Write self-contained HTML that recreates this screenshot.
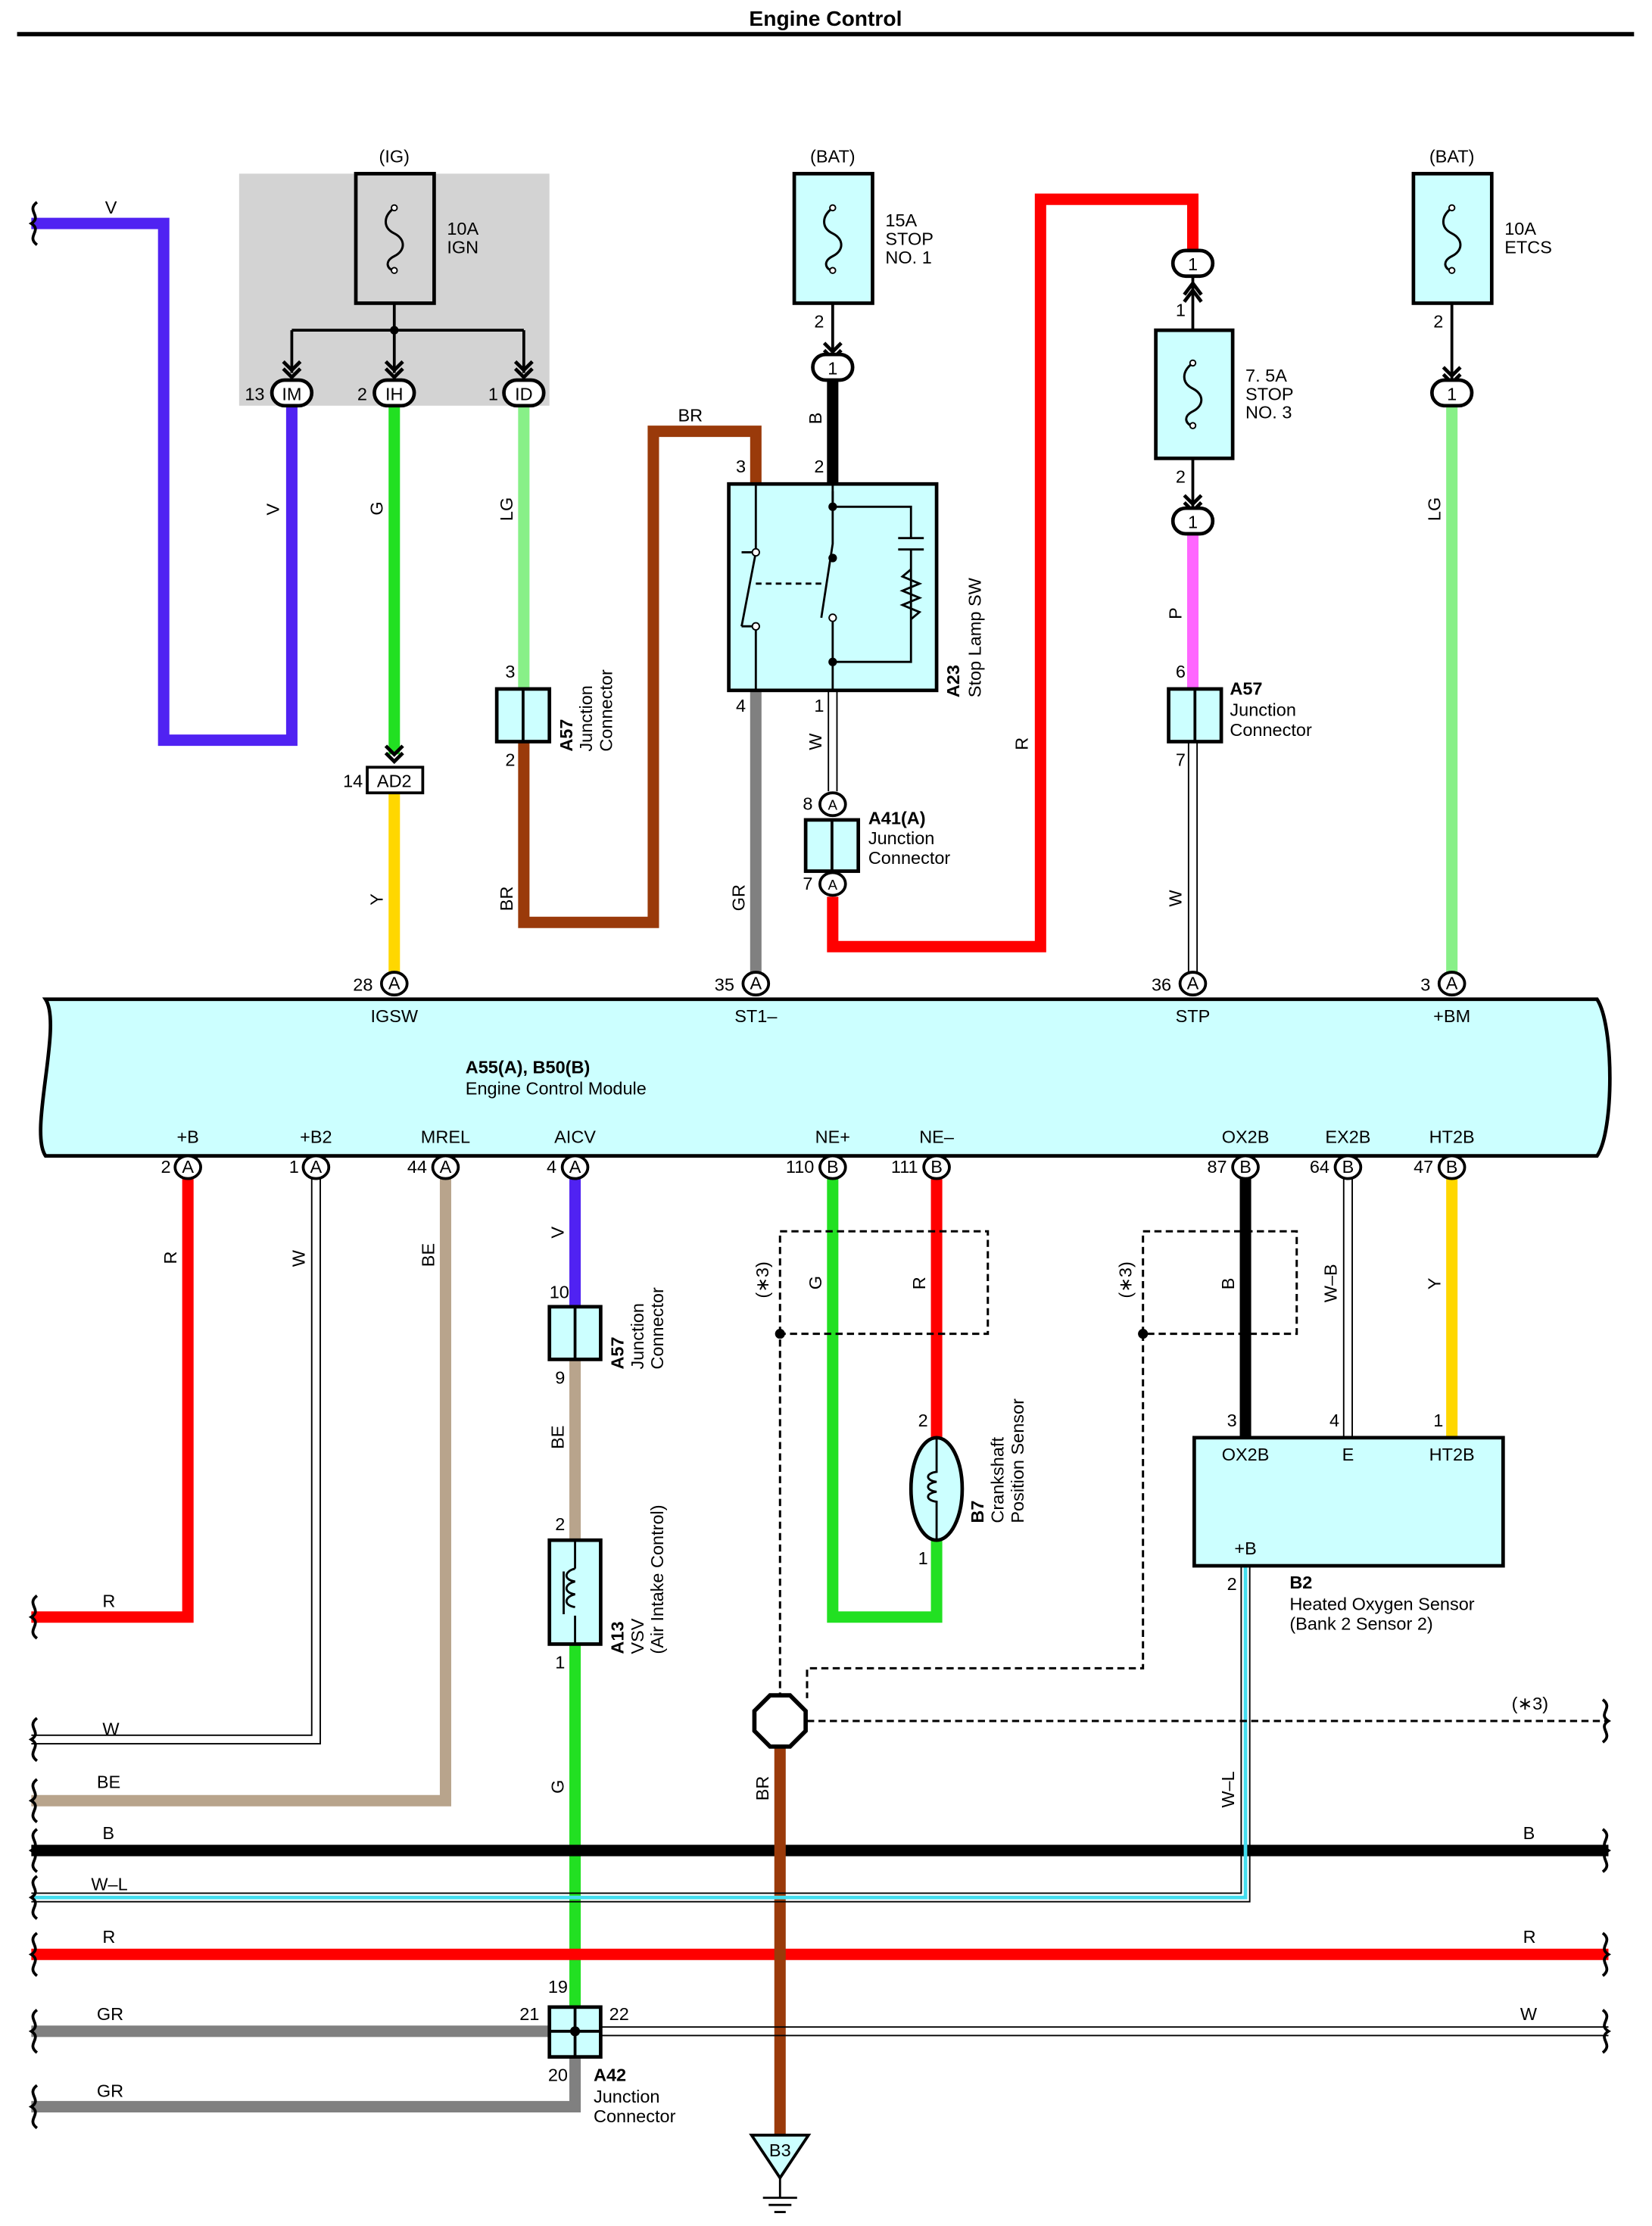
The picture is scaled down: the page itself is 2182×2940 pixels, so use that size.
<!DOCTYPE html>
<html><head><meta charset="utf-8"><style>
html,body{margin:0;padding:0;background:#fff}
svg{display:block}
text{font-family:"Liberation Sans",Arial,sans-serif;font-size:12.5px;fill:#000}
.b{font-weight:bold}
</style></head><body>
<svg width="2182" height="2940" viewBox="0 0 1160.6 1563.8" preserveAspectRatio="none" xmlns="http://www.w3.org/2000/svg">
<defs>
<g id="fuse"><path d="M0,-22 C-8,-16 -8,-8 0,-4 C8,0 8,8 0,12 C-8,16 -4,22 0,22" fill="none" stroke="#000" stroke-width="1.6"/><circle cx="0" cy="-22" r="2" fill="#fff" stroke="#000"/><circle cx="0" cy="22" r="2" fill="#fff" stroke="#000"/></g>
<g id="chev"><path d="M-6,-8 L0,-2 L6,-8 M-6,-3 L0,3 L6,-3" fill="none" stroke="#000" stroke-width="2.5"/></g>
</defs>
<text x="580" y="18" text-anchor="middle" class="b" style="font-size:15px">Engine Control</text>
<line x1="12" y1="24" x2="1148" y2="24" stroke="#000" stroke-width="3"/>

<!-- gray box -->
<rect x="168" y="122" width="218" height="163" fill="#d3d3d3"/>
<text x="277" y="114" text-anchor="middle">(IG)</text>
<text x="585" y="114" text-anchor="middle">(BAT)</text>
<text x="1020" y="114" text-anchor="middle">(BAT)</text>
<rect x="250" y="122" width="55" height="91" fill="#d3d3d3" stroke="#000" stroke-width="2.5"/>
<use href="#fuse" x="277" y="168"/>
<text x="314" y="165">10A</text><text x="314" y="178">IGN</text>
<path d="M277,213 V232 M205,232 H368 M205,232 V262 M277,232 V262 M368,232 V262" stroke="#000" stroke-width="2" fill="none"/>
<circle cx="277" cy="232" r="3" fill="#000"/>
<use href="#chev" x="205" y="262"/><use href="#chev" x="277" y="262"/><use href="#chev" x="368" y="262"/>

<!-- wires top -->
<g fill="none" stroke-width="8" stroke-linejoin="miter">
<path d="M22,157 H115 V520 H205 V285" stroke="#5022f2"/>
<path d="M277,285 V530" stroke="#22e022"/>
<path d="M277,557 V683" stroke="#ffd700"/>
<path d="M368,285 V484" stroke="#88f088"/>
<path d="M368,521 V648 H459 V303 H531 V340" stroke="#9a3a0a"/>
<path d="M585,266 V340" stroke="#000"/>
<path d="M531,485 V683" stroke="#808080"/>
<path d="M585,630 V665 H731 V140 H838 V176" stroke="#ff0000"/>
<path d="M838,376 V484" stroke="#ff66ff"/>
<path d="M1020,285 V683" stroke="#88f088"/>
</g>
<g fill="none" stroke="#000" stroke-width="1">
<path d="M582,485 V556 M588,485 V556"/>
<path d="M835,521 V683 M841,521 V683"/>
</g>
<use href="#chev" x="277" y="532"/>
<rect x="258" y="539" width="39" height="18" fill="#fff" stroke="#000" stroke-width="2"/>
<text x="277" y="553" text-anchor="middle">AD2</text><text x="241" y="553">14</text>

<!-- IM IH ID -->
<g fill="#fff" stroke="#000" stroke-width="2.5">
<rect x="191" y="267" width="28" height="18" rx="9"/><rect x="263" y="267" width="28" height="18" rx="9"/><rect x="354" y="267" width="28" height="18" rx="9"/>
</g>
<text x="205" y="281" text-anchor="middle">IM</text><text x="277" y="281" text-anchor="middle">IH</text><text x="368" y="281" text-anchor="middle">ID</text>
<text x="172" y="281">13</text><text x="251" y="281">2</text><text x="343" y="281">1</text>

<!-- fuses -->
<rect x="558" y="122" width="55" height="91" fill="#ccffff" stroke="#000" stroke-width="2.5"/><use href="#fuse" x="585" y="168"/>
<text x="622" y="159">15A</text><text x="622" y="172">STOP</text><text x="622" y="185">NO. 1</text>
<text x="572" y="230">2</text>
<path d="M585,213 V248" stroke="#000" stroke-width="2"/><use href="#chev" x="585" y="249"/>
<rect x="571" y="249" width="28" height="18" rx="9" fill="#fff" stroke="#000" stroke-width="2.5"/><text x="585" y="263" text-anchor="middle">1</text>

<rect x="993" y="122" width="55" height="91" fill="#ccffff" stroke="#000" stroke-width="2.5"/><use href="#fuse" x="1020" y="168"/>
<text x="1057" y="165">10A</text><text x="1057" y="178">ETCS</text><text x="1007" y="230">2</text>
<path d="M1020,213 V266" stroke="#000" stroke-width="2"/><use href="#chev" x="1020" y="266"/>
<rect x="1006" y="267" width="28" height="18" rx="9" fill="#fff" stroke="#000" stroke-width="2.5"/><text x="1020" y="281" text-anchor="middle">1</text>

<rect x="824" y="176" width="28" height="18" rx="9" fill="#fff" stroke="#000" stroke-width="2.5"/><text x="838" y="190" text-anchor="middle">1</text>
<path d="M838,194 V232" stroke="#000" stroke-width="2"/><path d="M832,207 L838,199 L844,207 M832,212 L838,204 L844,212" fill="none" stroke="#000" stroke-width="2.5"/>
<text x="826" y="222">1</text>
<rect x="812" y="232" width="54" height="90" fill="#ccffff" stroke="#000" stroke-width="2.5"/><use href="#fuse" x="838" y="277"/>
<text x="875" y="268">7. 5A</text><text x="875" y="281">STOP</text><text x="875" y="294">NO. 3</text>
<text x="826" y="339">2</text>
<path d="M838,322 V356" stroke="#000" stroke-width="2"/><use href="#chev" x="838" y="356"/>
<rect x="824" y="357" width="28" height="18" rx="9" fill="#fff" stroke="#000" stroke-width="2.5"/><text x="838" y="371" text-anchor="middle">1</text>

<!-- A57 top -->
<rect x="349" y="484" width="37" height="37" fill="#ccffff" stroke="#000" stroke-width="2.5"/><line x1="367.5" y1="484" x2="367.5" y2="521" stroke="#000" stroke-width="2"/>
<text x="355" y="476">3</text><text x="355" y="538">2</text>
<text transform="translate(402,528) rotate(-90)" class="b">A57</text>
<text transform="translate(416,528) rotate(-90)">Junction</text>
<text transform="translate(430,528) rotate(-90)">Connector</text>
<rect x="821" y="484" width="37" height="37" fill="#ccffff" stroke="#000" stroke-width="2.5"/><line x1="839.5" y1="484" x2="839.5" y2="521" stroke="#000" stroke-width="2"/>
<text x="826" y="476">6</text><text x="826" y="538">7</text>
<text x="864" y="488" class="b">A57</text><text x="864" y="503">Junction</text><text x="864" y="517">Connector</text>

<!-- stop lamp sw -->
<rect x="512" y="340" width="146" height="145" fill="#ccffff" stroke="#000" stroke-width="2.5"/>
<g fill="none" stroke="#000" stroke-width="1.5">
<path d="M531,340 V388 M531,440 V485 M521,388 L531,388 M531,440 L521,440"/>
<path d="M531,388 L521,440"/>
<path d="M585,340 V382 L577,434 M585,434 V485"/>
<path d="M585,356 H640 V378 M631,378 H649 M631,386 H649 M640,386 V465 H585 M585,420"/>
<path d="M585,356 V345"/>
<path d="M640,400 L634,405 L646,410 L634,415 L646,420 L634,425 L646,430 L640,435" />
<path d="M531,410 H577" stroke-dasharray="4,3"/>
</g>
<circle cx="585" cy="356" r="3" fill="#000"/><circle cx="585" cy="392" r="3" fill="#000"/><circle cx="585" cy="465" r="3" fill="#000"/>
<circle cx="531" cy="388" r="2.5" fill="#fff" stroke="#000"/><circle cx="531" cy="440" r="2.5" fill="#fff" stroke="#000"/><circle cx="585" cy="434" r="2.5" fill="#fff" stroke="#000"/>
<text x="517" y="332">3</text><text x="572" y="332">2</text><text x="517" y="500">4</text><text x="572" y="500">1</text>
<text transform="translate(674,490) rotate(-90)" class="b">A23</text>
<text transform="translate(689,490) rotate(-90)">Stop Lamp SW</text>

<!-- A41 -->
<ellipse cx="585" cy="565" rx="9" ry="8" fill="#fff" stroke="#000" stroke-width="2"/><text x="585" y="569" text-anchor="middle" style="font-size:10px">A</text>
<rect x="566" y="576" width="37" height="36" fill="#ccffff" stroke="#000" stroke-width="2.5"/><line x1="584.5" y1="576" x2="584.5" y2="612" stroke="#000" stroke-width="2"/>
<ellipse cx="585" cy="621" rx="9" ry="8" fill="#fff" stroke="#000" stroke-width="2"/><text x="585" y="625" text-anchor="middle" style="font-size:10px">A</text>
<text x="564" y="569">8</text><text x="564" y="625">7</text>
<text x="610" y="579" class="b">A41(A)</text><text x="610" y="593">Junction</text><text x="610" y="607">Connector</text>

<!-- wire labels top -->
<text x="78" y="150" text-anchor="middle">V</text>
<text x="485" y="296" text-anchor="middle">BR</text>
<g>
<text transform="translate(196,362) rotate(-90)">V</text>
<text transform="translate(269,362) rotate(-90)">G</text>
<text transform="translate(360,366) rotate(-90)">LG</text>
<text transform="translate(269,636) rotate(-90)">Y</text>
<text transform="translate(360,640) rotate(-90)">BR</text>
<text transform="translate(523,640) rotate(-90)">GR</text>
<text transform="translate(577,298) rotate(-90)">B</text>
<text transform="translate(577,527) rotate(-90)">W</text>
<text transform="translate(722,527) rotate(-90)">R</text>
<text transform="translate(830,435) rotate(-90)">P</text>
<text transform="translate(830,637) rotate(-90)">W</text>
<text transform="translate(1012,366) rotate(-90)">LG</text>
</g>

<!-- ECM -->
<path d="M32,702 H1122 C1134,720 1134,795 1122,812 H32 C20,795 44,720 32,702 Z" fill="#ccffff" stroke="#000" stroke-width="2.5"/>
<text x="327" y="754" class="b">A55(A), B50(B)</text><text x="327" y="769">Engine Control Module</text>
<g>
<ellipse cx="277" cy="691" rx="9" ry="8" fill="#fff" stroke="#000" stroke-width="2"/><ellipse cx="531" cy="691" rx="9" ry="8" fill="#fff" stroke="#000" stroke-width="2"/><ellipse cx="838" cy="691" rx="9" ry="8" fill="#fff" stroke="#000" stroke-width="2"/><ellipse cx="1020" cy="691" rx="9" ry="8" fill="#fff" stroke="#000" stroke-width="2"/>
</g>
<g style="font-size:10px" text-anchor="middle"><text x="277" y="695">A</text><text x="531" y="695">A</text><text x="838" y="695">A</text><text x="1020" y="695">A</text></g>
<text x="248" y="696">28</text><text x="502" y="696">35</text><text x="809" y="696">36</text><text x="998" y="696">3</text>
<g text-anchor="middle"><text x="277" y="718">IGSW</text><text x="531" y="718">ST1–</text><text x="838" y="718">STP</text><text x="1020" y="718">+BM</text>
<text x="132" y="803">+B</text><text x="222" y="803">+B2</text><text x="313" y="803">MREL</text><text x="404" y="803">AICV</text><text x="585" y="803">NE+</text><text x="658" y="803">NE–</text><text x="875" y="803">OX2B</text><text x="947" y="803">EX2B</text><text x="1020" y="803">HT2B</text></g>

<!-- bottom wires -->
<g fill="none" stroke-width="8">
<path d="M132,828 V1136 H22" stroke="#ff0000"/>
<path d="M313,828 V1265 H22" stroke="#b8a48c"/>
<path d="M404,828 V918" stroke="#5022f2"/>
<path d="M404,955 V1082" stroke="#b8a48c"/>
<path d="M404,1155 V1410" stroke="#22e022"/>
<path d="M404,1445 V1480 H22" stroke="#808080"/>
<path d="M22,1427 H386" stroke="#808080"/>
<path d="M22,1300 H1130" stroke="#000"/>
<path d="M22,1373 H1130" stroke="#ff0000"/>
<path d="M585,828 V1136 H658 V1082" stroke="#22e022"/>
<path d="M658,828 V1010" stroke="#ff0000"/>
<path d="M875,828 V1010" stroke="#000"/>
<path d="M1020,828 V1010" stroke="#ffd700"/>
<path d="M548,1227 V1500" stroke="#9a3a0a"/>
</g>
<g fill="none" stroke="#000" stroke-width="1">
<path d="M219,828 V1219 H22 M225,828 V1225 H22"/>
<path d="M422,1424 H1130 M422,1430 H1130"/>
<path d="M944,828 V1010 M950,828 V1010"/>
<path d="M872,1100 V1330 H22 M878,1100 V1336 H22"/>
</g>
<path d="M875,1100 V1333 H22" stroke="#44ddee" stroke-width="2.5" fill="none"/>
<path d="M947,828 V1010" stroke="#fff" stroke-width="3"/>

<!-- bottom connector circles -->
<g fill="#fff" stroke="#000" stroke-width="2">
<ellipse cx="132" cy="820" rx="9" ry="8"/><ellipse cx="222" cy="820" rx="9" ry="8"/><ellipse cx="313" cy="820" rx="9" ry="8"/><ellipse cx="404" cy="820" rx="9" ry="8"/><ellipse cx="585" cy="820" rx="9" ry="8"/><ellipse cx="658" cy="820" rx="9" ry="8"/><ellipse cx="875" cy="820" rx="9" ry="8"/><ellipse cx="947" cy="820" rx="9" ry="8"/><ellipse cx="1020" cy="820" rx="9" ry="8"/>
</g>
<g style="font-size:10px" text-anchor="middle"><text x="132" y="824">A</text><text x="222" y="824">A</text><text x="313" y="824">A</text><text x="404" y="824">A</text><text x="585" y="824">B</text><text x="658" y="824">B</text><text x="875" y="824">B</text><text x="947" y="824">B</text><text x="1020" y="824">B</text></g>
<g text-anchor="end"><text x="120" y="824">2</text><text x="210" y="824">1</text><text x="300" y="824">44</text><text x="391" y="824">4</text><text x="572" y="824">110</text><text x="645" y="824">111</text><text x="862" y="824">87</text><text x="934" y="824">64</text><text x="1007" y="824">47</text></g>

<!-- A57 lower -->
<rect x="386" y="918" width="36" height="37" fill="#ccffff" stroke="#000" stroke-width="2.5"/><line x1="404" y1="918" x2="404" y2="955" stroke="#000" stroke-width="2"/>
<text x="386" y="912">10</text><text x="390" y="972">9</text>
<text transform="translate(438,962) rotate(-90)" class="b">A57</text>
<text transform="translate(452,962) rotate(-90)">Junction</text>
<text transform="translate(466,962) rotate(-90)">Connector</text>

<!-- VSV -->
<rect x="386" y="1082" width="36" height="73" fill="#ccffff" stroke="#000" stroke-width="2.5"/>
<path d="M404,1082 V1102 M404,1135 V1155" stroke="#000" stroke-width="1.5"/>
<path d="M404,1102 c-8,2 -8,8 0,9 c-8,2 -8,8 0,9 c-8,2 -8,8 0,9 M396,1104 V1134" fill="none" stroke="#000" stroke-width="1.5"/>
<text x="390" y="1075">2</text><text x="390" y="1172">1</text>
<text transform="translate(438,1162) rotate(-90)" class="b">A13</text>
<text transform="translate(452,1162) rotate(-90)">VSV</text>
<text transform="translate(466,1162) rotate(-90)">(Air Intake Control)</text>

<!-- A42 -->
<rect x="386" y="1410" width="36" height="35" fill="#ccffff" stroke="#000" stroke-width="2.5"/>
<path d="M386,1427 H422 M404,1410 V1445" stroke="#000" stroke-width="2"/><circle cx="404" cy="1427" r="3.5" fill="#000"/>
<text x="385" y="1400">19</text><text x="365" y="1419">21</text><text x="428" y="1419">22</text><text x="385" y="1462">20</text>
<text x="417" y="1462" class="b">A42</text><text x="417" y="1477">Junction</text><text x="417" y="1491">Connector</text>

<!-- crankshaft -->
<ellipse cx="658" cy="1046" rx="18" ry="36" fill="#ccffff" stroke="#000" stroke-width="2.5"/>
<path d="M658,1010 V1034 c-8,1 -8,6 0,7 c-8,1 -8,6 0,7 c-8,1 -8,6 0,7 V1082" fill="none" stroke="#000" stroke-width="1.5"/>
<text x="645" y="1002">2</text><text x="645" y="1099">1</text>
<text transform="translate(691,1070) rotate(-90)" class="b">B7</text>
<text transform="translate(705,1070) rotate(-90)">Crankshaft</text>
<text transform="translate(719,1070) rotate(-90)">Position Sensor</text>

<!-- B2 -->
<rect x="839" y="1010" width="217" height="90" fill="#ccffff" stroke="#000" stroke-width="2.5"/>
<text x="875" y="1026" text-anchor="middle">OX2B</text><text x="947" y="1026" text-anchor="middle">E</text><text x="1020" y="1026" text-anchor="middle">HT2B</text>
<text x="875" y="1092" text-anchor="middle">+B</text>
<text x="862" y="1002">3</text><text x="934" y="1002">4</text><text x="1007" y="1002">1</text><text x="862" y="1117">2</text>
<text x="906" y="1116" class="b">B2</text><text x="906" y="1131">Heated Oxygen Sensor</text><text x="906" y="1145">(Bank 2 Sensor 2)</text>

<!-- dashed shields -->
<g fill="none" stroke="#000" stroke-width="1.6" stroke-dasharray="5,3">
<path d="M548,937 V865 H694 V937 H548 V1190"/>
<path d="M803,937 V865 H911 V937 H803 V1172 H567 V1193"/>
<path d="M567,1209 H1130"/>
</g>
<circle cx="548" cy="937" r="3.5" fill="#000"/><circle cx="803" cy="937" r="3.5" fill="#000"/>
<polygon points="541,1191 555,1191 566,1202 566,1216 555,1227 541,1227 530,1216 530,1202" fill="#fff" stroke="#000" stroke-width="3"/>
<text x="1062" y="1201">(∗3)</text>
<text transform="translate(540,912) rotate(-90)">(∗3)</text>
<text transform="translate(795,912) rotate(-90)">(∗3)</text>

<!-- ground -->
<polygon points="528,1500 568,1500 548,1530" fill="#ccffff" stroke="#000" stroke-width="2"/>
<text x="548" y="1515" text-anchor="middle">B3</text>
<path d="M548,1530 V1544 M536,1544 H560 M540,1549 H556 M544,1554 H552" stroke="#000" stroke-width="1.5"/>

<!-- bottom labels -->
<g>
<text transform="translate(124,888) rotate(-90)">R</text>
<text transform="translate(214,890) rotate(-90)">W</text>
<text transform="translate(305,890) rotate(-90)">BE</text>
<text transform="translate(396,870) rotate(-90)">V</text>
<text transform="translate(396,1018) rotate(-90)">BE</text>
<text transform="translate(396,1260) rotate(-90)">G</text>
<text transform="translate(577,906) rotate(-90)">G</text>
<text transform="translate(650,906) rotate(-90)">R</text>
<text transform="translate(867,906) rotate(-90)">B</text>
<text transform="translate(939,915) rotate(-90)">W–B</text>
<text transform="translate(1012,906) rotate(-90)">Y</text>
<text transform="translate(540,1265) rotate(-90)">BR</text>
<text transform="translate(867,1270) rotate(-90)">W–L</text>
</g>
<text x="72" y="1129">R</text><text x="72" y="1219">W</text><text x="68" y="1256">BE</text><text x="72" y="1292">B</text><text x="64" y="1328">W–L</text><text x="72" y="1365">R</text><text x="68" y="1419">GR</text><text x="68" y="1473">GR</text>
<text x="1070" y="1292">B</text><text x="1070" y="1365">R</text><text x="1068" y="1419">W</text>

<!-- wavy ends -->
<g fill="none" stroke="#000" stroke-width="2">
<path d="M26,142 c-8,6 4,10 -4,15 c8,5 -4,9 4,15"/>
<path d="M26,1121 c-8,6 4,10 -4,15 c8,5 -4,9 4,15"/>
<path d="M26,1207 c-8,6 4,10 -4,15 c8,5 -4,9 4,15"/>
<path d="M26,1250 c-8,6 4,10 -4,15 c8,5 -4,9 4,15"/>
<path d="M26,1285 c-8,6 4,10 -4,15 c8,5 -4,9 4,15"/>
<path d="M26,1318 c-8,6 4,10 -4,15 c8,5 -4,9 4,15"/>
<path d="M26,1358 c-8,6 4,10 -4,15 c8,5 -4,9 4,15"/>
<path d="M26,1412 c-8,6 4,10 -4,15 c8,5 -4,9 4,15"/>
<path d="M26,1465 c-8,6 4,10 -4,15 c8,5 -4,9 4,15"/>
<path d="M1126,1194 c8,6 -4,10 4,15 c-8,5 4,9 -4,15"/>
<path d="M1126,1285 c8,6 -4,10 4,15 c-8,5 4,9 -4,15"/>
<path d="M1126,1358 c8,6 -4,10 4,15 c-8,5 4,9 -4,15"/>
<path d="M1126,1412 c8,6 -4,10 4,15 c-8,5 4,9 -4,15"/>
</g>
</svg>
</body></html>
